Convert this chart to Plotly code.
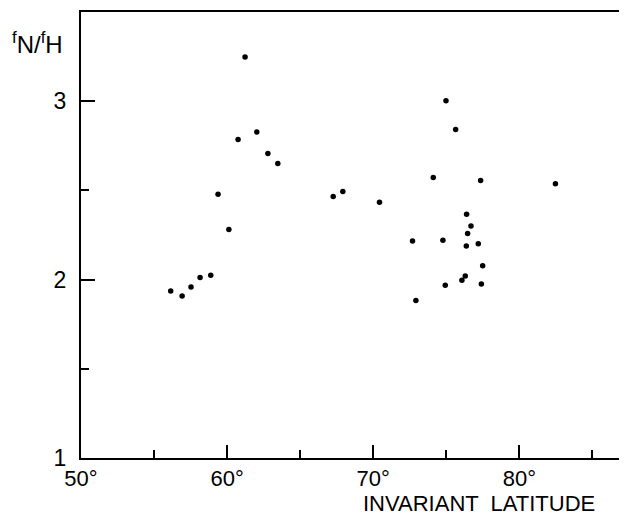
import plotly.graph_objects as go

# Invariant latitude (degrees) and fN/fH ratio
latitude = [61.23, 62.03, 60.75, 62.79, 63.47, 59.38, 60.12,
            56.14, 56.92, 57.53, 58.15, 58.88,
            74.98, 75.64, 74.11, 77.35, 82.47, 67.26, 67.92, 70.43,
            76.39, 76.69, 76.46, 72.69, 74.77, 76.37, 77.19,
            72.92, 74.93, 76.07, 76.30, 77.49, 77.40]
ratio = [3.248, 2.828, 2.785, 2.707, 2.651, 2.479, 2.281,
         1.936, 1.908, 1.958, 2.012, 2.025,
         3.002, 2.841, 2.573, 2.556, 2.537, 2.466, 2.494, 2.434,
         2.367, 2.301, 2.259, 2.217, 2.220, 2.189, 2.201,
         1.883, 1.969, 1.997, 2.020, 2.077, 1.975]

x_major = [50, 60, 70, 80]
x_major_labels = ["50°", "60°", "70°", "80°"]
x_minor = [55, 65, 75, 85]
y_major = [1, 2, 3]
y_major_labels = ["1", "2", "3"]
y_minor = [1.5, 2.5]

FONT = "Liberation Sans"

fig = go.Figure()
fig.add_trace(go.Scatter(
    x=latitude, y=ratio, mode="markers",
    marker=dict(color="black", size=5.5, line=dict(width=0)),
    showlegend=False, hoverinfo="skip"))

fig.update_layout(
    width=619, height=507,
    margin=dict(l=73, r=1, t=4, b=57),
    paper_bgcolor="white", plot_bgcolor="white",
    font=dict(family=FONT, size=22, color="black"),
    xaxis=dict(range=[50, 87.3], showgrid=False, zeroline=False,
               showline=True, linecolor="black", linewidth=2, mirror=True,
               tickmode="array", tickvals=x_major, ticktext=x_major_labels,
               ticks="inside", ticklen=13, tickwidth=2, tickcolor="black",
               minor=dict(tickmode="array", tickvals=x_minor, ticks="inside",
                          ticklen=8, tickwidth=2, tickcolor="black"),
               ticklabelstandoff=0,
               tickfont=dict(family=FONT, size=22)),
    yaxis=dict(range=[1, 3.5], showgrid=False, zeroline=False,
               showline=True, linecolor="black", linewidth=2,
               tickmode="array", tickvals=y_major, ticktext=y_major_labels,
               ticks="inside", ticklen=14, tickwidth=2, tickcolor="black",
               minor=dict(tickmode="array", tickvals=y_minor, ticks="inside",
                          ticklen=8, tickwidth=2, tickcolor="black"),
               ticklabelstandoff=8,
               tickfont=dict(family=FONT, size=23)),
    annotations=[
        dict(text="INVARIANT  LATITUDE", xref="paper", yref="paper",
             x=0.73, y=0, xanchor="center", yanchor="top",
             showarrow=False, yshift=-31,
             font=dict(family=FONT, size=22, color="black")),
        dict(text="<sup>f</sup>N/<sup>f</sup>H", xref="paper", yref="paper",
             x=0, y=1, xanchor="right", yanchor="top",
             xshift=-16, yshift=-14, showarrow=False,
             font=dict(family=FONT, size=24, color="black")),
    ],
)

fig.write_html("out.html")
